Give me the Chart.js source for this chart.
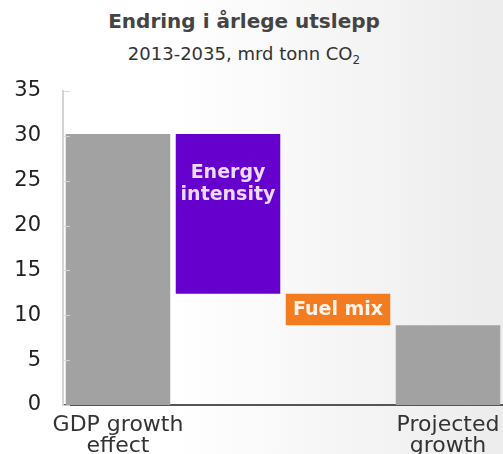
<!DOCTYPE html>
<html>
<head>
<meta charset="utf-8">
<script src="https://cdn.jsdelivr.net/npm/chart.js@4/dist/chart.umd.min.js"></script>
<style>
  html,body{margin:0;padding:0;}
  body{width:503px;height:454px;position:relative;overflow:hidden;
       background:linear-gradient(to right,#ffffff 0%,#ffffff 35%,#ececec 100%);}
  .ttl{position:absolute;left:0;width:488px;text-align:center;font-family:"DejaVu Sans",sans-serif;white-space:nowrap;}
  #title{top:9px;font-size:20px;font-weight:bold;color:#444;}
  #subtitle{top:43px;font-size:18px;color:#333;}
  #subtitle sub{font-size:12px;vertical-align:-4px;line-height:0;}
  canvas{position:absolute;left:0;top:0;}
</style>
</head>
<body>
<div id="title" class="ttl">Endring i årlege utslepp</div>
<div id="subtitle" class="ttl">2013-2035, mrd tonn CO<sub>2</sub></div>
<canvas id="c" width="503" height="454"></canvas>
<script>
// ---- data ----
const categories = [['GDP growth', 'effect'], '', '', ['Projected', 'growth']];
const barNames = ['GDP growth effect', 'Energy intensity', 'Fuel mix', 'Projected growth'];
const barLabels = [null, ['Energy', 'intensity'], ['Fuel mix'], null];
const startValues = [0, 12.4, 8.9, 0];
const endValues = [30.2, 30.2, 12.4, 8.9];
const yMin = 0, yMax = 35, yStep = 5;

const barColors = ['#a2a2a2', '#6600cc', '#f47c20', '#a2a2a2'];
const labelColors = [null, '#eadcff', '#fff4ea', null];
const labelPlacement = [null, 'top', 'center', null];

const floating = startValues.map((s, i) => [s, endValues[i]]);

const barTextPlugin = {
  id: 'barText',
  afterDatasetsDraw(chart) {
    const ctx = chart.ctx;
    const meta = chart.getDatasetMeta(0);
    ctx.save();
    ctx.font = 'bold 19px "DejaVu Sans"';
    ctx.textAlign = 'center';
    ctx.textBaseline = 'middle';
    meta.data.forEach((el, i) => {
      const lines = barLabels[i];
      if (!lines) return;
      const top = Math.min(el.y, el.base), bot = Math.max(el.y, el.base);
      ctx.fillStyle = labelColors[i];
      const lh = 22;
      let y0;
      if (labelPlacement[i] === 'top') y0 = top + 39;
      else y0 = (top + bot) / 2 - (lines.length - 1) * lh / 2 + 1;
      lines.forEach((ln, k) => ctx.fillText(ln, el.x, y0 + k * lh));
    });
    ctx.restore();
  }
};

const innerTicksPlugin = {
  id: 'innerTicks',
  afterDraw(chart) {
    const y = chart.scales.y, ctx = chart.ctx;
    const x0 = chart.chartArea.left;
    ctx.save();
    ctx.strokeStyle = 'rgba(215,215,215,0.9)';
    ctx.lineWidth = 1;
    for (let v = yMin; v <= yMax; v += yStep) {
      const py = Math.round(y.getPixelForValue(v)) + 0.5;
      ctx.beginPath();
      ctx.moveTo(x0, py);
      ctx.lineTo(x0 + 7, py);
      ctx.stroke();
    }
    ctx.restore();
  }
};

new Chart(document.getElementById('c'), {
  type: 'bar',
  data: {
    labels: categories,
    datasets: [{
      label: 'Endring',
      data: floating,
      backgroundColor: barColors,
      borderWidth: 0,
      categoryPercentage: 1.0,
      barPercentage: 0.95
    }]
  },
  options: {
    responsive: false,
    animation: false,
    layout: { padding: { top: 91, left: 0, right: 0, bottom: 0 } },
    plugins: { legend: { display: false }, tooltip: { enabled: false }, title: { display: false } },
    scales: {
      x: {
        grid: { display: false, drawTicks: false },
        border: { display: true, color: '#555555', width: 2 },
        ticks: {
          color: '#333333',
          font: { family: 'DejaVu Sans', size: 22, lineHeight: 0.95 },
          padding: 10,
          maxRotation: 0,
          autoSkip: false
        },
        afterFit(s) { s.height = 49; s.paddingLeft = 0; s.paddingRight = 0; }
      },
      y: {
        min: yMin, max: yMax,
        grid: { display: false, drawTicks: false },
        border: { display: true, color: '#d4d4d4', width: 2 },
        ticks: {
          stepSize: yStep,
          color: '#222222',
          font: { family: 'DejaVu Sans', size: 21 },
          padding: 22
        },
        afterFit(s) { s.width = 63; }
      }
    }
  },
  plugins: [barTextPlugin, innerTicksPlugin]
});
</script>
</body>
</html>
